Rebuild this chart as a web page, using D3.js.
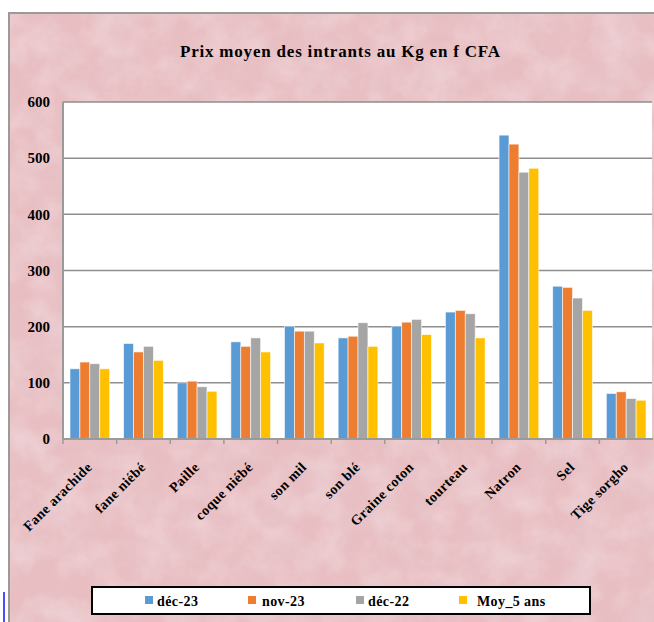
<!DOCTYPE html>
<html>
<head>
    <meta charset="utf-8">
    <title>Prix moyen des intrants</title>
    <script src="https://d3js.org/d3.v7.min.js"></script>
    <style>
        body {
            margin: 0;
            background: #fff;
        }
        svg text {
            font-family: "Liberation Serif", "Times New Roman", serif;
            font-weight: bold;
            fill: #000;
        }
    </style>
</head>
<body>
    <div id="chart"></div>

    <script>
        const categories = ["Fane arachide", "fane niébé", "Paille", "coque niébé", "son mil", "son blé",
            "Graine coton", "tourteau", "Natron", "Sel", "Tige sorgho"];
        const seriesNames = ["déc-23", "nov-23", "déc-22", "Moy_5 ans"];
        const dec23 = [125, 170, 100, 173, 201, 180, 201, 226, 541, 272, 81];
        const nov23 = [137, 155, 103, 165, 192, 183, 208, 229, 525, 270, 84];
        const dec22 = [134, 165, 93, 180, 192, 207, 213, 223, 475, 251, 72];
        const moy5 = [125, 140, 85, 155, 171, 165, 186, 180, 482, 229, 69];
        const yTicks = [0, 100, 200, 300, 400, 500, 600];

        const seriesValues = [dec23, nov23, dec22, moy5];
        const colors = ["#5b9bd5", "#ed7d31", "#a5a5a5", "#ffc000"];

        const width = 654, height = 622;
        const plot = {left: 63, right: 653, top: 102, bottom: 439};

        const svg = d3.select("#chart").append("svg")
            .attr("width", width)
            .attr("height", height);

        // mottled pink paper background
        const defs = svg.append("defs");
        function paperFilter(id, freq, seed, rgb) {
            const f = defs.append("filter").attr("id", id)
                .attr("x", 0).attr("y", 0).attr("width", "100%").attr("height", "100%");
            f.append("feTurbulence")
                .attr("type", "fractalNoise")
                .attr("baseFrequency", freq)
                .attr("numOctaves", 4)
                .attr("seed", seed);
            f.append("feColorMatrix")
                .attr("type", "matrix")
                .attr("values", `0 0 0 0 ${rgb[0]}  0 0 0 0 ${rgb[1]}  0 0 0 0 ${rgb[2]}  1.6 0 0 0 -0.6`);
        }
        paperFilter("paperDark", 0.03, 4, [0.80, 0.62, 0.66]);
        paperFilter("paperLight", 0.035, 11, [0.95, 0.84, 0.86]);

        svg.append("rect")
            .attr("x", 9).attr("y", 13)
            .attr("width", width - 9).attr("height", height - 13)
            .attr("fill", "#e8bec2");
        svg.append("rect")
            .attr("x", 9).attr("y", 13)
            .attr("width", width - 9).attr("height", height - 13)
            .attr("filter", "url(#paperDark)")
            .attr("opacity", 0.55);
        svg.append("rect")
            .attr("x", 9).attr("y", 13)
            .attr("width", width - 9).attr("height", height - 13)
            .attr("filter", "url(#paperLight)")
            .attr("opacity", 0.4);
        svg.append("path")
            .attr("d", `M9,${height}V13H${width}`)
            .attr("fill", "none")
            .attr("stroke", "#9a9a9a")
            .attr("stroke-width", 2);

        svg.append("text")
            .attr("x", 340).attr("y", 57)
            .attr("text-anchor", "middle")
            .attr("font-size", 17)
            .attr("textLength", 320)
            .attr("lengthAdjust", "spacing")
            .text("Prix moyen des intrants au Kg en f CFA");

        const x0 = d3.scaleBand().domain(categories).range([plot.left, plot.right]);
        const x1 = d3.scaleBand().domain(d3.range(4))
            .range([x0.bandwidth() * 0.13, x0.bandwidth() * 0.87]);
        const y = d3.scaleLinear().domain([0, 600]).range([plot.bottom, plot.top]);

        // plot area
        svg.append("rect")
            .attr("x", plot.left).attr("y", plot.top)
            .attr("width", plot.right - plot.left - 1)
            .attr("height", plot.bottom - plot.top)
            .attr("fill", "#fff");

        svg.append("g")
            .selectAll("line")
            .data(yTicks.slice(1))
            .join("line")
            .attr("x1", plot.left).attr("x2", plot.right - 1)
            .attr("y1", d => y(d)).attr("y2", d => y(d))
            .attr("stroke", "#8e8e8e")
            .attr("stroke-width", 1.5);

        svg.append("line")
            .attr("x1", plot.left).attr("x2", plot.left)
            .attr("y1", plot.top).attr("y2", plot.bottom)
            .attr("stroke", "#9a9a9a").attr("stroke-width", 2);

        svg.append("g")
            .selectAll("text")
            .data(yTicks)
            .join("text")
            .attr("x", 50)
            .attr("y", d => y(d))
            .attr("dy", "0.35em")
            .attr("text-anchor", "end")
            .attr("font-size", 15)
            .text(d => d);

        // bars
        const groups = svg.append("g")
            .selectAll("g")
            .data(categories)
            .join("g")
            .attr("transform", d => `translate(${x0(d)},0)`);

        groups.selectAll("rect")
            .data((d, i) => seriesValues.map((s, k) => ({k: k, v: s[i]})))
            .join("rect")
            .attr("x", d => x1(d.k))
            .attr("width", x1.bandwidth())
            .attr("y", d => y(d.v))
            .attr("height", d => y(0) - y(d.v))
            .attr("fill", d => colors[d.k])
            .attr("stroke", "rgba(255,255,255,0.7)")
            .attr("stroke-width", 0.8);

        // x axis
        svg.append("line")
            .attr("x1", plot.left).attr("x2", plot.right)
            .attr("y1", plot.bottom).attr("y2", plot.bottom)
            .attr("stroke", "#9a9a9a").attr("stroke-width", 2);

        svg.append("g")
            .selectAll("line")
            .data(categories)
            .join("line")
            .attr("x1", d => x0(d)).attr("x2", d => x0(d))
            .attr("y1", plot.bottom).attr("y2", plot.bottom + 5)
            .attr("stroke", "#9a9a9a").attr("stroke-width", 1.5);

        svg.append("g")
            .selectAll("text")
            .data(categories)
            .join("text")
            .attr("transform", d => `translate(${x0(d) + x0.bandwidth() / 2 + 3},${plot.bottom + 29}) rotate(-45)`)
            .attr("text-anchor", "end")
            .attr("font-size", 14)
            .attr("letter-spacing", 0.4)
            .text(d => d);

        // legend
        const legend = svg.append("g");
        legend.append("rect")
            .attr("x", 92).attr("y", 587)
            .attr("width", 498).attr("height", 27)
            .attr("fill", "#fff")
            .attr("stroke", "#000")
            .attr("stroke-width", 2);

        const legendX = [145, 248, 356, 459];
        const legendTextX = [157, 262, 368, 477];
        seriesNames.forEach((name, k) => {
            legend.append("rect")
                .attr("x", legendX[k]).attr("y", 596)
                .attr("width", 8).attr("height", 8)
                .attr("fill", colors[k]);
            legend.append("text")
                .attr("x", legendTextX[k]).attr("y", 606)
                .attr("font-size", 14)
                .attr("letter-spacing", 0.4)
                .text(name);
        });

        svg.append("line")
            .attr("x1", 4).attr("x2", 4)
            .attr("y1", 592).attr("y2", height)
            .attr("stroke", "#4d4dff").attr("stroke-width", 2);
    </script>
</body>
</html>
